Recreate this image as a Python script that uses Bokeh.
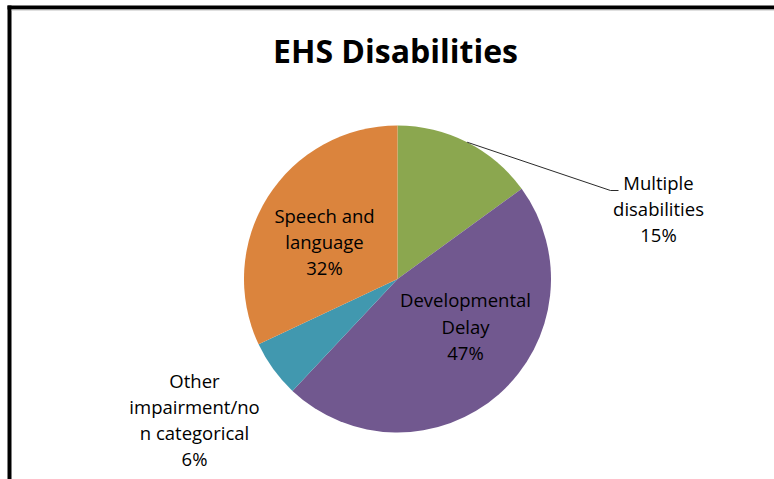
import math
from bokeh.plotting import figure
from bokeh.models import Range1d, ColumnDataSource
from bokeh.core.properties import value
from bokeh.embed import file_html
from bokeh.resources import INLINE

# ---- data ----
categories = ["Multiple disabilities", "Developmental Delay",
              "Other impairment/non categorical", "Speech and language"]
shares = [15, 47, 6, 32]
label_lines = [["Multiple", "disabilities"], ["Developmental", "Delay"],
               ["Other", "impairment/no", "n categorical"], ["Speech and", "language"]]
colors = ["#8BA74F", "#71588F", "#4198AF", "#DB843D"]
title_text = "EHS Disabilities"

# ---- layout (page pixel coordinates) ----
X0, Y0 = 0, 0
W, H = 774, 479
CX, CY, R = 397, 278.5, 153.5
# label anchors: (center x, first line y, line step)
label_pos = [(658, 182, 26), (465, 299, 26.5), (194, 380, 26), (324, 215, 26)]
FONT = "Open Sans"

p = figure(width=W, height=H, output_backend="svg", toolbar_location=None,
           x_range=Range1d(X0, X0 + W), y_range=Range1d(-(Y0 + H), -Y0),
           x_axis_type=None, y_axis_type=None, min_border=0)
p.grid.visible = False
p.outline_line_color = None
p.background_fill_color = "white"
p.border_fill_color = "white"

# frame border (left and top, as in the reference)
p.quad(left=[7, 7], right=[11, 774], top=[-5, -5], bottom=[-479, -9],
       fill_color="black", line_color=None)
p.segment(x0=[11], y0=[-9.5], x1=[774], y1=[-9.5], line_color="#c0c0c0", line_width=1)

# pie wedges
total = sum(shares)
cum = 0
starts, ends = [], []
for s in shares:
    starts.append(math.pi / 2 - 2 * math.pi * cum / total)
    cum += s
    ends.append(math.pi / 2 - 2 * math.pi * cum / total)
src = ColumnDataSource(dict(start=starts, end=ends, color=colors, cat=categories))
p.wedge(x=CX, y=-CY, radius=R, start_angle="start", end_angle="end",
        direction="clock", fill_color="color", line_color=None, source=src)

# leader line for "Multiple disabilities"
mid = 2 * math.pi * (shares[0] / 2) / total
sx = CX + R * math.sin(mid)
sy = CY - R * math.cos(mid)
p.line(x=[sx, 610, 618], y=[-sy, -190, -190], line_color="#2a2a2a", line_width=1)

# title
p.text(x=[395], y=[-50], text=[title_text], text_font=value(FONT),
       text_font_style="bold", text_font_size="32px", text_align="center",
       text_baseline="alphabetic", text_color="black")

# labels
for lines, share, (lx, ly, step) in zip(label_lines, shares, label_pos):
    all_lines = lines + [f"{share}%"]
    xs = [lx] * len(all_lines)
    ys = [-(ly + i * step) for i in range(len(all_lines))]
    p.text(x=xs, y=ys, text=all_lines, text_font=value(FONT),
           text_font_size="18.5px", text_align="center",
           text_baseline="alphabetic", text_color="black")

open("out.html", "w").write(file_html(p, INLINE))
